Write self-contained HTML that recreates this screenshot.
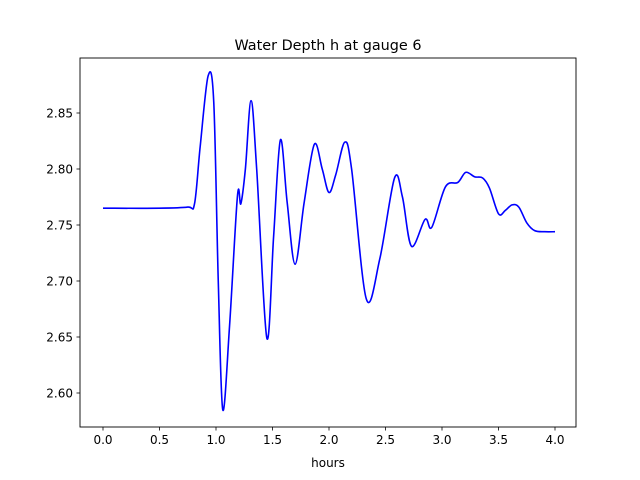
<!DOCTYPE html>
<html><head><meta charset="utf-8"><style>body{margin:0;background:#fff}svg{display:block;font-family:"DejaVu Sans","Liberation Sans",sans-serif}</style></head>
<body>
<svg id="chart" width="640" height="480">
<text x="328" y="50" font-size="14.4" text-anchor="middle">Water Depth h at gauge 6</text>
<g id="plot"></g>
<rect x="80" y="58" width="496" height="369" fill="none" stroke="#000" stroke-width="0.9"/>
<text x="328" y="467" font-size="12" text-anchor="middle">hours</text>
</svg>
<script>
const hours=[0,0.5,0.75,0.81,0.86,0.93,0.98,1.02,1.06,1.12,1.19,1.22,1.26,1.31,1.36,1.45,1.51,1.57,1.63,1.70,1.78,1.87,1.94,2.0,2.06,2.14,2.2,2.33,2.45,2.58,2.65,2.73,2.85,2.91,3.03,3.14,3.21,3.29,3.36,3.42,3.5,3.56,3.62,3.68,3.75,3.82,3.91,4.0];
const depth=[2.765,2.765,2.766,2.769,2.82,2.883,2.86,2.70,2.585,2.66,2.776,2.769,2.80,2.861,2.80,2.649,2.74,2.826,2.77,2.715,2.77,2.822,2.80,2.779,2.795,2.824,2.80,2.684,2.72,2.792,2.775,2.731,2.755,2.748,2.784,2.788,2.797,2.793,2.792,2.783,2.760,2.763,2.768,2.766,2.752,2.745,2.744,2.744];
const xTicks=[0,0.5,1,1.5,2,2.5,3,3.5,4];
const yTicks=[2.60,2.65,2.70,2.75,2.80,2.85];
const X=h=>103+h*113, Y=v=>113+(2.85-v)/0.05*56;
const NS="http://www.w3.org/2000/svg", g=document.getElementById('plot');
function mk(t,a){const e=document.createElementNS(NS,t);for(const k in a)e.setAttribute(k,a[k]);g.appendChild(e);return e;}
xTicks.forEach(t=>{const l=mk('line',{x1:X(t),x2:X(t),y1:427,y2:430.5,stroke:'#000','stroke-width':0.8});


const s=mk('text',{x:X(t),y:444,'font-size':12,'text-anchor':'middle'});s.textContent=t.toFixed(1);

});
yTicks.forEach(t=>{const l=mk('line',{x1:76.5,x2:80,y1:Y(t),y2:Y(t),stroke:'#000','stroke-width':0.8});


const s=mk('text',{x:73,y:Y(t)+4.5,'font-size':12,'text-anchor':'end'});s.textContent=t.toFixed(2);

});
const P=hours.map((h,i)=>[X(h),Y(depth[i])]);
let d='M'+P[0][0]+','+P[0][1];
for(let i=0;i<P.length-1;i++){const p0=P[Math.max(0,i-1)],p1=P[i],p2=P[i+1],p3=P[Math.min(P.length-1,i+2)];
d+=' C'+(p1[0]+(p2[0]-p0[0])/6)+','+(p1[1]+(p2[1]-p0[1])/6)+' '+(p2[0]-(p3[0]-p1[0])/6)+','+(p2[1]-(p3[1]-p1[1])/6)+' '+p2[0]+','+p2[1];}
const line=mk('path',{d:d,fill:'none',stroke:'#0000ff','stroke-width':1.6});


</script>
</body></html>
